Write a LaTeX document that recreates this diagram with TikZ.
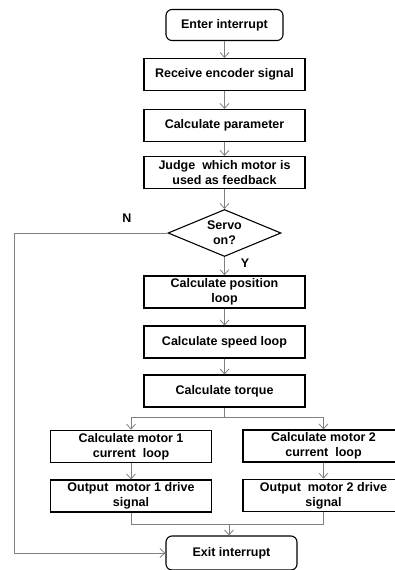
\documentclass[tikz,border=0pt]{standalone}
\usepackage{fontspec}
\setmainfont{Liberation Sans}
\usetikzlibrary{shapes.geometric,arrows.meta}
\begin{document}
\begin{tikzpicture}[x=1pt,y=-1pt,
  every node/.style={font=\bfseries\fontsize{12.5}{15}\selectfont,align=center},
  stepbox/.style={draw,line width=1.1pt,minimum width=161pt,minimum height=32pt,inner sep=2pt},
  heavy/.style={line width=1.7pt},
  termbox/.style={draw,line width=1.1pt,rounded corners=6pt,minimum height=31pt},
  testbox/.style={draw,line width=1.1pt,diamond,aspect=2.4,minimum width=113pt,minimum height=47pt,inner sep=0pt},
  link/.style={draw=gray,line width=0.8pt},
  flow/.style={link,-{Straight Barb[length=5pt,width=9pt]}}]
  \useasboundingbox (0,0) rectangle (395,570);

  % main column
  \node[termbox,minimum width=117pt] (enter) at (224.5,25) {Enter interrupt};
  \node[stepbox] (receive) at (224.5,74.5) {Receive encoder signal};
  \node[stepbox] (param) at (224.5,125.5) {Calculate parameter};
  \node[stepbox] (judge) at (224.5,172.5) {Judge\ \ which motor is\\used as feedback};
  \node[testbox] (servo) at (224.5,233) {Servo\\on?};
  \node[stepbox,heavy] (pos) at (224.5,292) {Calculate position\\loop};
  \node[stepbox] (speed) at (224.5,342) {Calculate speed loop};
  \node[stepbox] (torque) at (224.5,391) {Calculate torque};

  % two motors
  \node[stepbox,heavy] (cur1) at (131,446.5) {Calculate motor 1\\current\ \ loop};
  \node[stepbox] (cur2) at (323.5,446) {Calculate motor 2\\current\ \ loop};
  \node[stepbox] (out1) at (131,496) {Output\ \ motor 1 drive\\signal};
  \node[stepbox,heavy] (out2) at (323.5,495.5) {Output\ \ motor 2 drive\\signal};
  \node[termbox,minimum width=131pt,minimum height=34pt] (exit) at (231.5,553) {Exit interrupt};

  \node (no) at (127,218) {N};
  \node (yes) at (245,263) {Y};

  \draw[flow] (enter) -- (receive);
  \draw[flow] (receive) -- (param);
  \draw[flow] (param) -- (judge);
  \draw[flow] (judge) -- (servo);
  \draw[flow] (servo) -- (pos);
  \draw[flow] (pos) -- (speed);
  \draw[flow] (speed) -- (torque);

  \coordinate (split) at (224.5,417);
  \draw[link] (torque.south) -- (split);
  \draw[flow] (split) -| (cur1.north);
  \draw[flow] (split) -| (cur2.north);
  \draw[flow] (cur1) -- (out1);
  \draw[flow] (cur2) -- (out2);

  \coordinate (join) at (229,524);
  \draw[link] (out1.south) |- (join);
  \draw[link] (out2.south) |- (join);
  \draw[flow] (join) -- (join |- exit.north);

  % servo off
  \coordinate (bypass) at (14,233);
  \draw[flow] (servo.west) -- (bypass) |- (exit.west);
\end{tikzpicture}
\end{document}
